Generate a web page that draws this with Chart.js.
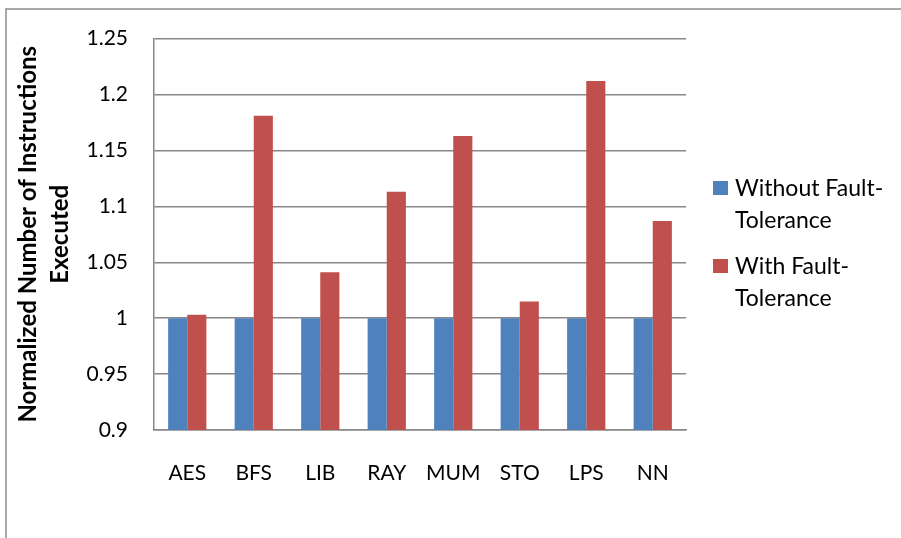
<!DOCTYPE html>
<html lang="en">
<head>
    <meta charset="UTF-8">
    <title>Normalized Number of Instructions Executed</title>
    <style>
        html, body {
            margin: 0;
            padding: 0;
            background: #ffffff;
        }
        .chart-box {
            position: relative;
            width: 901px;
            height: 538px;
        }
    </style>
    <script src="https://cdn.jsdelivr.net/npm/chart.js"></script>
</head>
<body>
    <div class="chart-box">
        <canvas id="instrChart" width="901" height="538"></canvas>
    </div>

    <script>
        // Data
        const benchmarks = ['AES', 'BFS', 'LIB', 'RAY', 'MUM', 'STO', 'LPS', 'NN'];
        const withoutFT = [1, 1, 1, 1, 1, 1, 1, 1];
        const withFT = [1.003, 1.181, 1.041, 1.113, 1.163, 1.015, 1.212, 1.087];
        const yTicks = [0.9, 0.95, 1, 1.05, 1.1, 1.15, 1.2, 1.25];
        const seriesNames = [['Without Fault-', 'Tolerance'], ['With Fault-', 'Tolerance']];

        const gridGray = '#878787';
        const fontFamily = 'Lato, "Open Sans", sans-serif';

        // Legend on the right with wrapped text, plus the outer chart border
        const sideLegend = {
            id: 'sideLegend',
            afterDraw(chart) {
                const ctx = chart.ctx;
                ctx.save();
                // outer border (only top and left edges are visible in the crop)
                ctx.strokeStyle = '#8c8c8c';
                ctx.lineWidth = 1.5;
                ctx.beginPath();
                ctx.moveTo(6, 538);
                ctx.lineTo(6, 9);
                ctx.lineTo(901, 9);
                ctx.stroke();

                const tops = [181, 259];
                ctx.font = '23px ' + fontFamily;
                ctx.fillStyle = '#000';
                ctx.textBaseline = 'alphabetic';
                chart.data.datasets.forEach((ds, i) => {
                    ctx.fillStyle = ds.backgroundColor;
                    ctx.fillRect(713, tops[i], 15, 14);
                    ctx.fillStyle = '#000';
                    seriesNames[i].forEach((line, j) => {
                        ctx.fillText(line, 735, tops[i] + 15 + j * 32);
                    });
                });
                ctx.restore();
            }
        };

        new Chart(document.getElementById('instrChart').getContext('2d'), {
            type: 'bar',
            data: {
                labels: benchmarks,
                datasets: [{
                    label: seriesNames[0].join(''),
                    data: withoutFT,
                    backgroundColor: '#4F81BD',
                }, {
                    label: seriesNames[1].join(''),
                    data: withFT,
                    backgroundColor: '#C0504D',
                }]
            },
            options: {
                responsive: false,
                animation: false,
                devicePixelRatio: 1,
                categoryPercentage: 0.575,
                barPercentage: 1,
                layout: {
                    padding: { left: 0, top: 36, right: 215, bottom: 0 }
                },
                plugins: {
                    legend: { display: false },
                    tooltip: { enabled: false }
                },
                scales: {
                    x: {
                        afterFit: s => { s.height = 108; },
                        grid: { display: false, drawTicks: false },
                        border: { color: gridGray, width: 1.5 },
                        ticks: {
                            color: '#000',
                            padding: 31,
                            font: { family: fontFamily, size: 21 }
                        }
                    },
                    y: {
                        min: 0.9,
                        max: 1.25,
                        afterFit: s => { s.width = 154; },
                        afterBuildTicks: s => { s.ticks = yTicks.map(v => ({ value: v })); },
                        grid: { color: gridGray, lineWidth: 1.5, drawTicks: false },
                        border: { color: gridGray, width: 1.5 },
                        ticks: {
                            color: '#000',
                            padding: 26,
                            font: { family: fontFamily, size: 21 },
                            callback: v => String(+v.toFixed(2))
                        },
                        title: {
                            display: true,
                            text: ['Normalized Number of Instructions', 'Executed'],
                            color: '#000',
                            padding: { top: 13 },
                            font: { family: fontFamily, size: 24, weight: 'bold', lineHeight: 1.3 }
                        }
                    }
                }
            },
            plugins: [sideLegend]
        });
    </script>
</body>
</html>
